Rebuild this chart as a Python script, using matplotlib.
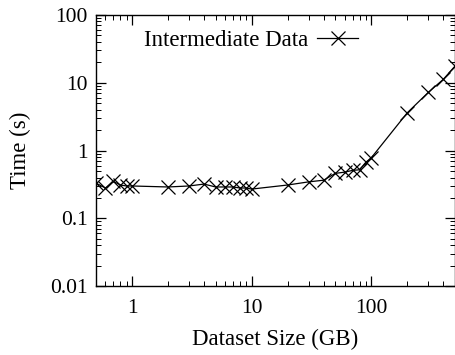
import matplotlib
matplotlib.use("Agg")
import matplotlib.pyplot as plt
from matplotlib.ticker import LogLocator, FixedLocator, FixedFormatter, NullFormatter

plt.rcParams["font.family"] = ["Liberation Serif", "DejaVu Serif"]

# dataset size (GB) and time (s)
tamanho = [0.5, 0.6, 0.7, 0.8, 0.9, 1, 2, 3, 4, 5, 6, 7, 8, 9, 10,
           20, 30, 40, 50, 60, 70, 80, 90, 100, 200, 300, 400, 500]
tempo = [0.33, 0.28, 0.35, 0.31, 0.30, 0.30, 0.29, 0.30, 0.32, 0.29, 0.29, 0.29, 0.28, 0.28, 0.27,
         0.31, 0.345, 0.365, 0.46, 0.48, 0.51, 0.52, 0.67, 0.78, 3.6, 7.2, 11.2, 17.5]
xticks = [1, 10, 100]
xlabels = ["1", "10", "100"]
yticks = [0.01, 0.1, 1, 10, 100]
ylabels = ["0.01", "0.1", "1", "10", "100"]

fig = plt.figure(figsize=(4.56, 3.55), dpi=100)
ax = fig.add_axes([0.2105, 0.194, 0.787, 0.764])
ax.plot(tamanho, tempo, "k-", marker="x", ms=10, mew=0.9, lw=0.9,
        label="Intermediate Data")
ax.set_xscale("log"); ax.set_yscale("log")
ax.set_xlim(0.5, 500); ax.set_ylim(0.01, 100)

ax.xaxis.set_major_locator(FixedLocator(xticks))
ax.xaxis.set_major_formatter(FixedFormatter(xlabels))
ax.yaxis.set_major_locator(FixedLocator(yticks))
ax.yaxis.set_major_formatter(FixedFormatter(ylabels))
for eixo in (ax.xaxis, ax.yaxis):
    eixo.set_minor_locator(LogLocator(base=10, subs=range(2, 10)))
    eixo.set_minor_formatter(NullFormatter())
ax.tick_params(which="both", direction="in", top=True, right=True, labelsize=15.5)
ax.tick_params(axis="x", pad=9)
ax.tick_params(axis="y", pad=6)
ax.tick_params(which="major", length=7, width=0.9)
ax.tick_params(which="minor", length=3.5, width=0.7)
for s in ax.spines.values():
    s.set_linewidth(1.0)

ax.set_xlabel("Dataset Size (GB)", fontsize=16.5, labelpad=8)
ax.set_ylabel("Time (s)", fontsize=16.5, labelpad=14)
ax.legend(loc="upper left", bbox_to_anchor=(0.075, 1.02), frameon=False, markerfirst=False,
          fontsize=16.5, handlelength=1.8, handletextpad=0.4)

plt.savefig("out.png", dpi=100)
plt.close()
